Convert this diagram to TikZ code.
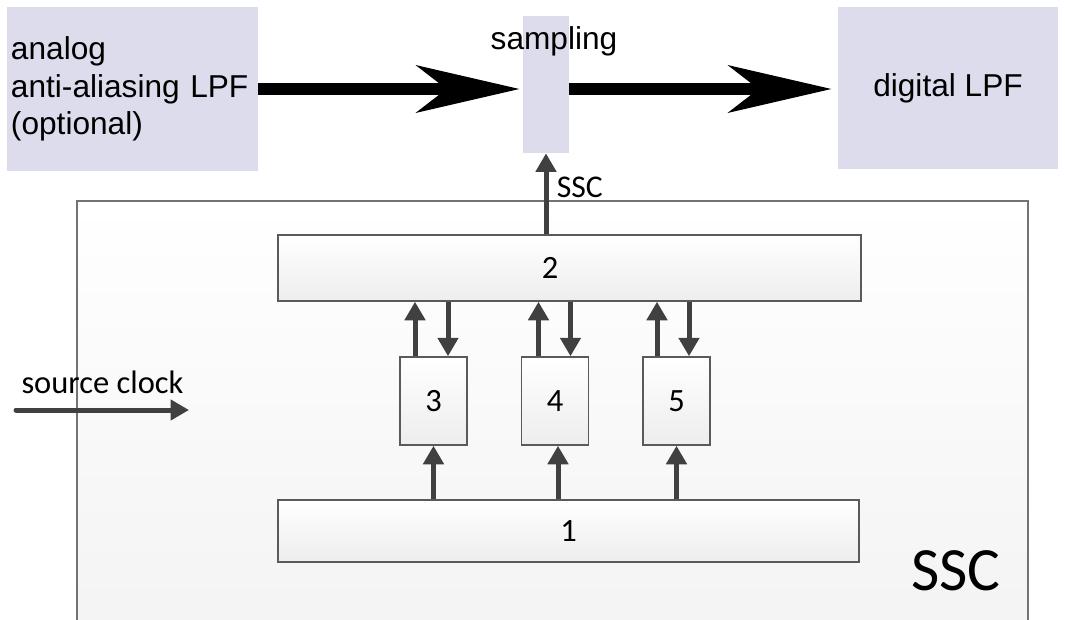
\documentclass[tikz,border=0pt]{standalone}
\usepackage{fontspec}
\setmainfont{Carlito}
\newfontfamily\arialfont{Liberation Sans}
\usepackage{xcolor}
\usepackage{tikz}
\usetikzlibrary{positioning,arrows.meta}

\definecolor{lavbox}{RGB}{220,220,236}
\definecolor{darkarrow}{RGB}{64,64,64}
\definecolor{boxline}{RGB}{90,90,90}

\begin{document}
\begin{tikzpicture}[
  topbox/.style={fill=lavbox,inner xsep=0.08cm,inner ysep=0pt,font=\arialfont\fontsize{18}{21.5}\selectfont},
  blk/.style={draw=boxline,line width=0.03cm,top color=white,bottom color=gray!14,inner sep=0pt,font=\fontsize{18.5}{21}\selectfont},
  garrow/.style={draw=darkarrow,line width=0.1cm,-{Triangle[length=0.37cm,width=0.4cm]}},
  bigarrow/.style={line width=0.24cm,-{Stealth[length=2.06cm,width=0.94cm,inset=0.6cm]}}]
  \useasboundingbox (0,0) rectangle (21.3,-12.38);
  % Row 1: filter chain
  \node[topbox,minimum height=3.28cm,text width=4.86cm,align=left] (analog) at (2.65,-1.78) {analog\\anti-aliasing LPF\\(optional)};
  \node[topbox,minimum width=0.92cm,minimum height=2.74cm,
    label={[anchor=base,xshift=0.16cm,yshift=-0.68cm,font=\arialfont\fontsize{18}{21}\selectfont]north:sampling}] (samp) at (10.92,-1.69) {};
  \node[topbox,minimum width=4.4cm,minimum height=3.24cm] (digital) at (18.96,-1.76) {digital LPF};

  \draw[bigarrow,shorten >=0.06cm] (analog.east) -- (analog.east -| samp.west);
  \draw[bigarrow,shorten >=0.12cm] (samp.east |- analog.east) -- (digital.west |- analog.east);

  % SSC block
  \node[draw=gray!110,line width=0.03cm,top color=white,bottom color=gray!9,minimum width=19.02cm,minimum height=8.44cm] (ssc) at (11.05,-8.24) {};
  \node[blk,minimum width=11.66cm,minimum height=1.32cm,label={[xshift=-0.39cm,font=\fontsize{18.5}{21}\selectfont]center:2}] (b2) at (11.39,-5.36) {};
  \node[blk,minimum width=1.34cm,minimum height=1.76cm] (b3) at (8.67,-8.02) {3};
  \node[blk,minimum width=1.34cm,minimum height=1.76cm] (b4) [right=1.06cm of b3] {4};
  \node[blk,minimum width=1.34cm,minimum height=1.76cm] (b5) [right=1.06cm of b4] {5};
  \node[blk,minimum width=11.62cm,minimum height=1.24cm] (b1) at (11.37,-10.62) {1};
  \node[font=\fontsize{35}{38}\selectfont,anchor=base east] (sscname) at (20.14,-11.8) {SSC};

  \draw[garrow] (samp.south |- b2.north) -- node[right,pos=0.58,xshift=0.05cm,font=\fontsize{18}{20}\selectfont] {SSC} (samp.south);

  \draw[garrow] ([xshift=-0.37cm]b3.north) -- ([xshift=-0.37cm]b3.north |- b2.south);
  \draw[garrow] ([xshift=0.29cm]b3.north |- b2.south) -- ([xshift=0.29cm]b3.north);
  \draw[garrow] ([xshift=-0.33cm]b4.north) -- ([xshift=-0.33cm]b4.north |- b2.south);
  \draw[garrow] ([xshift=0.31cm]b4.north |- b2.south) -- ([xshift=0.31cm]b4.north);
  \draw[garrow] ([xshift=-0.39cm]b5.north) -- ([xshift=-0.39cm]b5.north |- b2.south);
  \draw[garrow] ([xshift=0.25cm]b5.north |- b2.south) -- ([xshift=0.25cm]b5.north);

  \draw[garrow] (b3.south |- b1.north) -- (b3.south);
  \draw[garrow] ([xshift=0.06cm]b4.south |- b1.north) -- ([xshift=0.06cm]b4.south);
  \draw[garrow] (b5.south |- b1.north) -- (b5.south);

  % clock input
  \coordinate (clkin) at (0.32,-8.2);
  \coordinate (clkout) at (3.78,-8.2);
  \draw[garrow,line cap=round] (clkin) -- node[above=0.16cm,font=\fontsize{18.5}{21}\selectfont] {source clock} (clkout);
\end{tikzpicture}
\end{document}
